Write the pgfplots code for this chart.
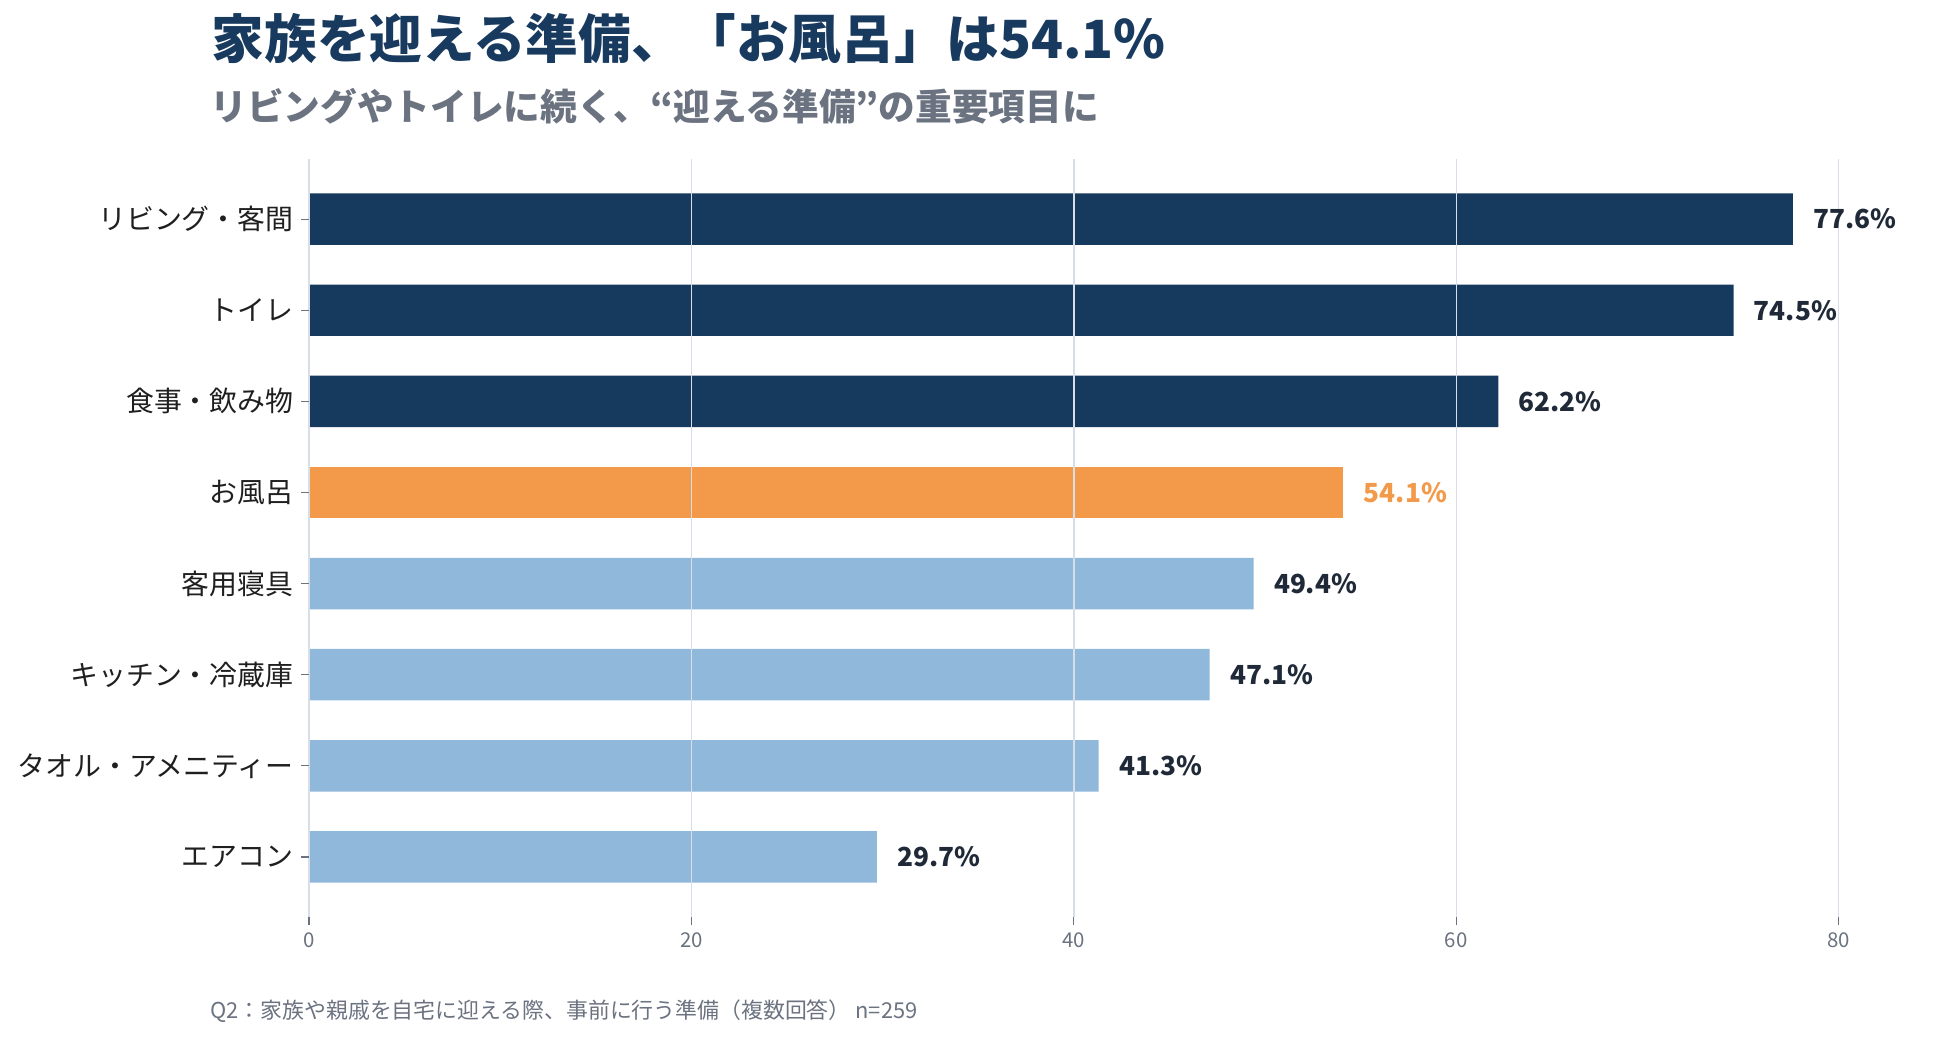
\documentclass[border=0pt]{standalone}
\usepackage{pgfplots}
\pgfplotsset{compat=1.18}
\usepackage{fontspec}
\setmainfont{Noto Sans CJK JP}
\definecolor{navy}{HTML}{163A5E}
\definecolor{orng}{HTML}{F2994A}
\definecolor{lblue}{HTML}{8FB8DA}
\definecolor{titlec}{HTML}{173A5E}
\definecolor{subc}{HTML}{6B7280}
\definecolor{valc}{HTML}{1F2937}
\definecolor{gridc}{HTML}{D8DEE8}
\definecolor{tickc}{HTML}{6B7280}
\begin{document}
\begin{tikzpicture}
\useasboundingbox (0,0) rectangle (936pt,498.24pt);
\begin{axis}[
  at={(148.32pt,58.08pt)}, anchor=south west,
  scale only axis, width=734.26pt, height=363.84pt,
  xmin=0, xmax=80, ymin=-0.66, ymax=7.66,
  xtick={0,20,40,60,80}, ytick={0,...,7},
  xtick pos=bottom, ytick pos=left,
  yticklabels={エアコン, タオル・アメニティー, キッチン・冷蔵庫, 客用寝具, お風呂, 食事・飲み物, トイレ, リビング・客間},
  axis line style={draw=none},
  xmajorgrids, grid style={gridc, line width=0.7pt},
  tick align=outside, major tick length=3.84pt,
  tick style={tickc, line width=0.6pt},
  xticklabel style={font=\fontsize{9.8pt}{11pt}\selectfont, text=tickc},
  yticklabel style={font=\fontsize{13.4pt}{15pt}\selectfont, text=black!88},
  /pgf/number format/assume math mode=true,
  axis on top,
  xbar, bar shift=0pt, bar width=0.565,
  clip=false,
  point meta=x,
  nodes near coords={\pgfmathprintnumber[fixed,fixed zerofill,precision=1,assume math mode=true]{\pgfplotspointmeta}\%},
  nodes near coords style={font=\bfseries\fontsize{12.6pt}{14pt}\selectfont, text=valc, anchor=west, inner sep=0pt, xshift=9.6pt},
]
\addplot[fill=lblue, draw=none] coordinates {(29.7,0) (41.3,1) (47.1,2) (49.4,3)};
\addplot[fill=orng, draw=none, nodes near coords style={text=orng}] coordinates {(54.1,4)};
\addplot[fill=navy, draw=none] coordinates {(62.2,5) (74.5,6) (77.6,7)};
\end{axis}
\node[anchor=base west, inner sep=0pt, text=titlec, font=\bfseries\fontsize{25.25pt}{28pt}\selectfont] at (101.5pt,469.92pt) {家族を迎える準備、「お風呂」は54.1\%};
\node[anchor=base west, inner sep=0pt, text=subc, font=\bfseries\fontsize{17.6pt}{20pt}\selectfont] at (100.8pt,440.16pt) {リビングやトイレに続く、“迎える準備”の重要項目に};
\node[anchor=base west, inner sep=0pt, text=subc, font=\fontsize{10.5pt}{12pt}\selectfont] at (100.8pt,9.6pt) {Q2：家族や親戚を自宅に迎える際、事前に行う準備（複数回答） n=259};
\end{tikzpicture}
\end{document}
